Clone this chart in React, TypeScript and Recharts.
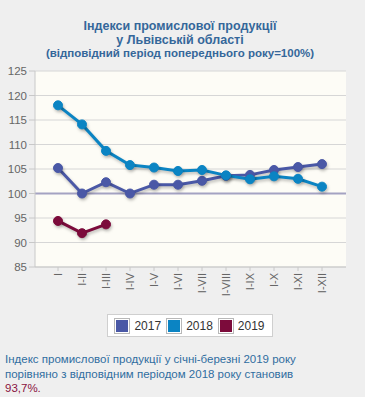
import React from 'react';
import { LineChart, Line, XAxis, YAxis, CartesianGrid, ReferenceLine } from 'recharts';

const periods = ['I', 'I-II', 'I-III', 'I-IV', 'I-V', 'I-VI', 'I-VII', 'I-VIII', 'I-IX', 'I-X', 'I-XI', 'I-XII'];
const values2017 = [105.2, 100.0, 102.3, 100.0, 101.8, 101.8, 102.6, 103.6, 103.8, 104.8, 105.4, 106.0];
const values2018 = [118.0, 114.1, 108.7, 105.8, 105.3, 104.6, 104.8, 103.7, 102.9, 103.5, 103.0, 101.4];
const values2019 = [94.4, 91.9, 93.7];
const yTicks = [85, 90, 95, 100, 105, 110, 115, 120, 125];

const series = [
  { key: 'y2017', name: '2017', color: '#4a58a6' },
  { key: 'y2018', name: '2018', color: '#0b84c3' },
  { key: 'y2019', name: '2019', color: '#7c0b3b' },
];

const data = periods.map((p, i) => ({
  period: p,
  y2017: values2017[i],
  y2018: values2018[i],
  y2019: i < values2019.length ? values2019[i] : null,
}));

const FONT = '"Liberation Sans", Arial, sans-serif';

// rotated month-range labels, reading bottom to top
const PeriodTick = (props: any) => {
  const { x, y, payload } = props;
  return (
    <text
      x={x}
      y={y}
      dy={4}
      transform={`rotate(-90, ${x}, ${y})`}
      textAnchor="end"
      fontSize={11}
      fontFamily={FONT}
      fill="#666"
    >
      {payload.value}
    </text>
  );
};

export default function App() {
  return (
    <div
      style={{
        position: 'fixed',
        left: 0,
        top: 0,
        width: 365,
        height: 397,
        background: '#efefef',
        fontFamily: FONT,
        overflow: 'hidden',
      }}
    >
      {/* Title */}
      <div
        style={{
          position: 'absolute',
          top: 20,
          left: 0,
          width: 360,
          textAlign: 'center',
          color: '#35679a',
          fontWeight: 'bold',
          fontSize: 12.5,
          lineHeight: '13.5px',
        }}
      >
        <div>Індекси промислової продукції</div>
        <div>у Львівській області</div>
        <div style={{ fontSize: 11.5 }}>(відповідний період попереднього року=100%)</div>
      </div>

      <div style={{ position: 'absolute', left: 0, top: 0 }}>
        <LineChart width={365} height={320} data={data} margin={{ top: 71, right: 19, bottom: 13, left: 0 }}>
          <CartesianGrid vertical={false} stroke="#d6d6d6" fill="#fdfcf6" />
          <XAxis
            dataKey="period"
            padding={{ left: 23, right: 24 }}
            height={40}
            interval={0}
            tick={<PeriodTick />}
            tickSize={4}
            stroke="#c8c8c8"
          />
          <YAxis
            domain={[85, 125]}
            ticks={yTicks}
            width={35}
            tickSize={6}
            stroke="#c8c8c8"
            tick={{ fontSize: 11.5, fill: '#666', fontFamily: FONT }}
          />
          <ReferenceLine y={100} stroke="#a4a2c2" strokeWidth={2} />
          {series.map((s) => (
            <Line
              key={s.key}
              dataKey={s.key}
              name={s.name}
              stroke={s.color}
              strokeWidth={3}
              dot={{ r: 4.5, fill: s.color, stroke: s.color, strokeWidth: 1 }}
              activeDot={false}
              isAnimationActive={false}
              connectNulls={false}
              style={{ filter: 'drop-shadow(1px 2px 1.5px rgba(0,0,0,0.25))' }}
            />
          ))}
        </LineChart>
      </div>

      {/* Legend */}
      <div
        style={{
          position: 'absolute',
          left: 107,
          top: 314,
          width: 164,
          height: 21,
          background: '#fff',
          border: '1px solid #cfcfcf',
          display: 'flex',
          alignItems: 'center',
          justifyContent: 'center',
          gap: 6,
          fontSize: 12,
          color: '#333',
        }}
      >
        {series.map((s) => (
          <div key={s.key} style={{ display: 'flex', alignItems: 'center', gap: 5 }}>
            <span
              style={{
                display: 'inline-block',
                width: 12,
                height: 12,
                background: s.color,
                border: '1px solid #fff',
                outline: '1px solid #b8b8b8',
              }}
            />
            <span>{s.name}</span>
          </div>
        ))}
      </div>

      {/* Note */}
      <div
        style={{
          position: 'absolute',
          left: 5,
          top: 352,
          width: 300,
          fontSize: 11.5,
          lineHeight: '14.5px',
          color: '#2f6da0',
        }}
      >
        Індекс промислової продукції у січні-березні 2019 року порівняно з відповідним періодом 2018 року становив{' '}
        <span style={{ color: '#8a1240' }}>93,7%.</span>
      </div>
    </div>
  );
}
